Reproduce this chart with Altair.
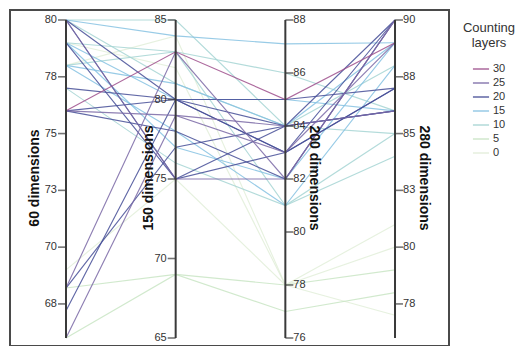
import altair as alt
import pandas as pd

# ---- data -------------------------------------------------------------
axis_names = ["60 dimensions", "150 dimensions", "200 dimensions", "280 dimensions"]
axis_lo = [66, 65, 76, 76]
axis_hi = [80, 85, 88, 90]

dim60 = [80, 80, 80, 80, 80, 79, 79, 79, 79, 78, 78, 78, 77, 77, 76, 76, 76, 76,
         68.2, 68.2, 67.2, 66, 69, 68.2, 66, 79, 80, 78]
dim150 = [85, 84, 80, 75, 75, 83, 80, 77, 75, 83, 81, 78, 80, 76, 83, 80, 79, 78,
          83, 77, 80, 79, 75, 69, 69, 82, 81, 84]
dim200 = [84, 87.1, 83, 84, 82, 81, 85, 82, 83, 86, 84, 81, 84, 81, 85, 83, 84, 82,
          82, 84, 85, 83, 78, 78, 77, 78, 84, 78]
dim280 = [88, 89, 90, 90, 90, 84, 86, 89, 87, 86, 89, 88, 86, 85, 89, 87, 86, 90,
          90, 86, 87, 89, 81, 79, 78, 80, 85, 77]
layers = [10, 15, 20, 20, 25, 10, 15, 15, 20, 10, 15, 15, 20, 10, 30, 20, 25, 20,
          25, 20, 20, 25, 0, 5, 5, 0, 10, 0]

layer_levels = [30, 25, 20, 15, 10, 5, 0]
layer_colors = ["#9e4f8c", "#7a68a6", "#454d96", "#86c2e2", "#a6d5d3", "#c9e5c4", "#e2eed9"]

tick_values = [
    [80, 77.5, 75, 72.5, 70, 67.5],
    [85, 80, 75, 70, 65],
    [88, 86, 84, 82, 80, 78, 76],
    [90, 87.5, 85, 82.5, 80, 77.5],
]
tick_labels = [
    ["80", "78", "75", "73", "70", "68"],
    ["85", "80", "75", "70", "65"],
    ["88", "86", "84", "82", "80", "78", "76"],
    ["90", "88", "85", "83", "80", "78"],
]

# ---- tables -----------------------------------------------------------
series = [dim60, dim150, dim200, dim280]
rows = []
for i, lay in enumerate(layers):
    for a in range(4):
        v = series[a][i]
        rows.append({"model": i, "axis": a, "value": v, "layer": lay,
                     "norm": (v - axis_lo[a]) / (axis_hi[a] - axis_lo[a])})
lines_df = pd.DataFrame(rows).sort_values(["layer", "model", "axis"])

tick_rows = []
for a in range(4):
    for v, lab in zip(tick_values[a], tick_labels[a]):
        tick_rows.append({"axis": a, "label": lab, "side": "L" if a < 2 else "R",
                          "norm": (v - axis_lo[a]) / (axis_hi[a] - axis_lo[a])})
ticks_df = pd.DataFrame(tick_rows)

axes_df = pd.DataFrame({"axis": [0, 1, 2, 3], "top": [1, 1, 1, 1], "bottom": [0, 0, 0, 0],
                        "name": axis_names})

# ---- layout: the view itself is the framed box -------------------------
PL, PT, PR = 10, 10, 67          # padding around the framed view
W, H = 516 - PL - PR, 346 - PT   # view size
x0_px, step_px = 66 - PL, 109.67
top_px, bot_px = 20 - PT, 338 - PT
span = bot_px - top_px
xscale = alt.Scale(domain=[-x0_px / step_px, (W - x0_px) / step_px], nice=False, zero=False)
yscale = alt.Scale(domain=[-(H - bot_px) / span, 1 + top_px / span], nice=False, zero=False)

X = lambda f="axis": alt.X(f"{f}:Q", scale=xscale, axis=None)
Y = lambda f="norm": alt.Y(f"{f}:Q", scale=yscale, axis=None)

FONT = "Liberation Sans"
AX = "#3a3a3a"

lines = alt.Chart(lines_df).mark_line(strokeWidth=1.15, opacity=0.85).encode(
    x=X(), y=Y(), detail="model:N", order="axis:Q",
    color=alt.Color("layer:O",
                    scale=alt.Scale(domain=layer_levels, range=layer_colors),
                    sort=layer_levels,
                    legend=alt.Legend(title=["Counting", "layers"], orient="none",
                                      legendX=463 - PL, legendY=22 - PT, symbolType="stroke",
                                      symbolSize=260, symbolStrokeWidth=1.5,
                                      titleFont=FONT, titleFontSize=13, titleFontWeight="normal",
                                      titleColor="#333", titleAlign="center", titleAnchor="middle",
                                      labelFont=FONT, labelFontSize=11, labelColor="#333",
                                      rowPadding=0, titlePadding=10, labelOffset=3)),
)

axis_lines = alt.Chart(axes_df).mark_rule(color=AX, strokeWidth=2).encode(
    x=X(), y=Y("bottom"), y2="top:Q")

ticks_left = alt.Chart(ticks_df).transform_filter("datum.side == 'L'").mark_tick(
    orient="horizontal", size=8, thickness=1.6, color=AX, xOffset=-4).encode(x=X(), y=Y())
ticks_right = alt.Chart(ticks_df).transform_filter("datum.side == 'R'").mark_tick(
    orient="horizontal", size=8, thickness=1.6, color=AX, xOffset=4).encode(x=X(), y=Y())

labels_left = alt.Chart(ticks_df).transform_filter("datum.side == 'L'").mark_text(
    align="right", baseline="middle", dx=-9, font=FONT, fontSize=11, color="#333").encode(
    x=X(), y=Y(), text="label:N")
labels_right = alt.Chart(ticks_df).transform_filter("datum.side == 'R'").mark_text(
    align="left", baseline="middle", dx=8, font=FONT, fontSize=11, color="#333").encode(
    x=X(), y=Y(), text="label:N")

title_df = pd.DataFrame({"name": axis_names, "px": [35 - PL, 149 - PL, 314 - PL, 424 - PL],
                         "ang": [270, 270, 90, 90]})
titles = alt.Chart(title_df).mark_text(
    font=FONT, fontSize=14, fontWeight="bold", color="#111", align="center",
    baseline="middle").encode(
    x=alt.X("px:Q", scale=None), y=alt.value(178 - PT), text="name:N",
    angle=alt.Angle("ang:Q", scale=None))

chart = alt.layer(
    lines, axis_lines, ticks_left, ticks_right, labels_left, labels_right, titles,
).properties(
    width=W, height=H, padding={"left": PL, "top": PT, "right": PR, "bottom": 0},
    autosize=alt.AutoSizeParams(type="none"), background="white",
).configure_view(stroke="#4a4a4a", strokeWidth=2)

chart.save("out.html", embed_options={"renderer": "svg", "actions": False})
